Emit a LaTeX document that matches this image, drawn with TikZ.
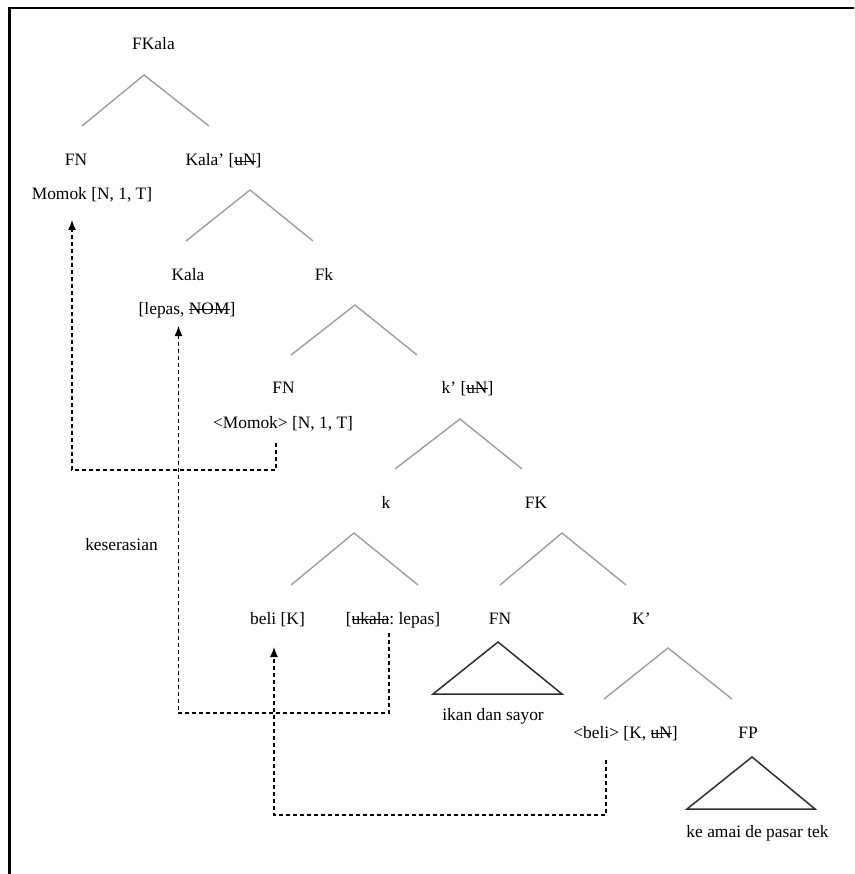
\documentclass[tikz,border=0pt]{standalone}
\usepackage{fontspec}
\setmainfont{Liberation Serif}
\usetikzlibrary{arrows.meta}
\frenchspacing
% struck-through text: a thin rule laid over the boxed word
\newcommand{\strk}[1]{\leavevmode\setbox0=\hbox{#1}\rlap{\rule[0.24em]{\wd0}{0.9pt}}\box0}
\begin{document}
\begin{tikzpicture}[x=1pt,y=-1pt,
  lbl/.style={anchor=base, inner sep=0pt, font=\fontsize{17.4}{20}\selectfont},
  branch/.style={draw=black!38, line width=1.4pt},
  roof/.style={draw=black!82, line width=1.5pt, line join=miter},
  movepath/.style={draw=black, line width=1.2pt, dash pattern=on 4pt off 3pt},
  tip/.style={-{Latex[length=10pt,width=8pt]}}]

\useasboundingbox (0,0) rectangle (854,874);

% frame (top and left edges)
\coordinate (frbl) at (9.5,874);
\coordinate (frtl) at (9.5,8);
\coordinate (frtr) at (854,8);
\draw[line width=2.5pt] (frbl) -- (frtl) -- (frtr);

% labels
\node[lbl] (fkala)  at (153.5,50)  {FKala};
\node[lbl] (fn1)    at (76,166)    {FN};
\node[lbl] (kalab)  at (223.5,166) {Kala’ [\strk{uN}]};
\node[lbl] (momok)  at (92,200)    {Momok [N, 1, T]};
\node[lbl] (kala)   at (188,280)   {Kala};
\node[lbl] (fk)     at (324,280)   {Fk};
\node[lbl] (lepas)  at (187,314)   {[lepas, \strk{NOM}]};
\node[lbl] (fn2)    at (283.5,393) {FN};
\node[lbl] (kb)     at (467.5,393) {k’ [\strk{uN}]};
\node[lbl] (momok2) at (283,428)   {\textless Momok\textgreater{} [N, 1, T]};
\node[lbl] (k)      at (386,508)   {k};
\node[lbl] (fkk)    at (536,508)   {FK};
\node[lbl] (beli)   at (277.5,624) {beli [K]};
\node[lbl] (ukala)  at (393,624)   {[\strk{ukala}: lepas]};
\node[lbl] (fn3)    at (500,624)   {FN};
\node[lbl] (kbar)   at (641.5,624) {K’};
\node[lbl] (ikan)   at (493,720)   {ikan dan sayor};
\node[lbl] (beli2)  at (625.5,738) {\textless beli\textgreater{} [K, \strk{uN}]};
\node[lbl] (fp)     at (748,738)   {FP};
\node[lbl] (keamai) at (757.5,837) {ke amai de pasar tek};
\node[lbl] (keser)  at (121.5,550) {keserasian};

% branch points
\coordinate (a1) at (144,75);  \coordinate (l1) at (82,126);  \coordinate (r1) at (209,126);
\coordinate (a2) at (250,190); \coordinate (l2) at (186,241); \coordinate (r2) at (313,241);
\coordinate (a3) at (355,305); \coordinate (l3) at (291,355); \coordinate (r3) at (417,355);
\coordinate (a4) at (460,419); \coordinate (l4) at (395,469); \coordinate (r4) at (522,469);
\coordinate (a5) at (354,533); \coordinate (l5) at (291,585); \coordinate (r5) at (418,585);
\coordinate (a6) at (562,533); \coordinate (l6) at (500,585); \coordinate (r6) at (626,585);
\coordinate (a7) at (668,648); \coordinate (l7) at (604,699); \coordinate (r7) at (732,699);

\foreach \i in {1,...,7} {
  \draw[branch] (l\i) -- (a\i) -- (r\i);
}

% roofs
\coordinate (t1) at (498,642); \coordinate (t1l) at (433,694); \coordinate (t1r) at (562,694);
\coordinate (t2) at (752,757); \coordinate (t2l) at (687,809); \coordinate (t2r) at (815,809);
\draw[roof] (t1) -- (t1l) -- (t1r) -- cycle;
\draw[roof] (t2) -- (t2l) -- (t2r) -- cycle;

% movement paths
\coordinate (m1s) at (276,443); \coordinate (m1b) at (276,470);
\coordinate (m1c) at (72,470);  \coordinate (m1e) at (72,220);
\draw[movepath, tip] (m1s) -- (m1b) -- (m1c) -- (m1e);

\coordinate (m2s) at (389,633);   \coordinate (m2b) at (389,713);
\coordinate (m2c) at (178.5,713); \coordinate (m2e) at (178.5,326);
\draw[movepath, tip] (m2s) -- (m2b) -- (m2c) -- (m2e);

\coordinate (m3s) at (606,760); \coordinate (m3b) at (606,815);
\coordinate (m3c) at (274,815); \coordinate (m3e) at (274,647);
\draw[movepath, tip] (m3s) -- (m3b) -- (m3c) -- (m3e);

\end{tikzpicture}
\end{document}
